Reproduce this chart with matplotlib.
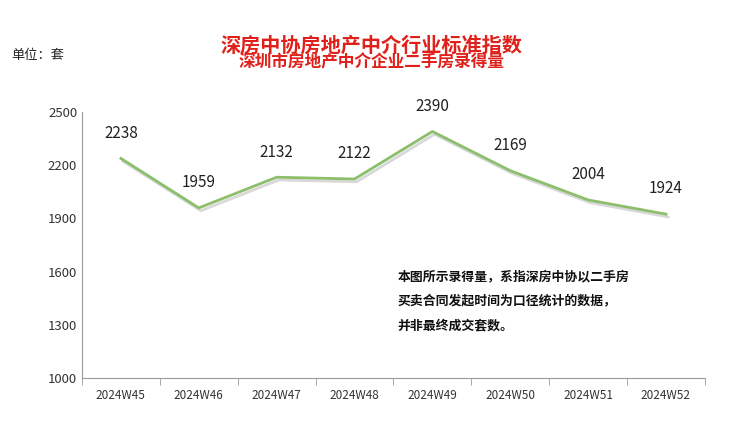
import matplotlib.pyplot as plt
import matplotlib.patheffects as pe
import numpy as np

plt.rcParams['font.family'] = ['Noto Sans CJK SC', 'DejaVu Sans']

weeks = ["2024W45", "2024W46", "2024W47", "2024W48", "2024W49", "2024W50", "2024W51", "2024W52"]
values = [2238, 1959, 2132, 2122, 2390, 2169, 2004, 1924]
yticks = [1000, 1300, 1600, 1900, 2200, 2500]

fig = plt.figure(figsize=(7.32, 4.34), dpi=100)
ax = fig.add_axes([0.112, 0.129, 0.851, 0.613])
x = np.arange(len(weeks))
ax.plot(x, values, color="#8cbf6c", linewidth=2,
        path_effects=[pe.SimpleLineShadow(offset=(1.5, -2), shadow_color="#aaaaaa", alpha=0.45),
                      pe.Normal()])
for xi, v in zip(x, values):
    ax.annotate(str(v), (xi, v), xytext=(0, 12), textcoords="offset points",
                ha="center", va="bottom", fontsize=11, color="#222222")

ax.set_xlim(-0.5, len(weeks) - 0.5)
ax.set_ylim(1000, 2500)
ax.set_yticks(yticks)
ax.set_xticks(x)
ax.set_xticklabels(weeks)
ax.set_xticks(np.arange(-0.5, len(weeks)), minor=True)
ax.tick_params(axis="x", which="major", length=0, labelsize=8.5, colors="#333333", pad=8)
ax.tick_params(axis="x", which="minor", length=5, color="#999999")
ax.tick_params(axis="y", length=0, labelsize=9.5, colors="#333333")
for s in ["top", "right"]:
    ax.spines[s].set_visible(False)
for s in ["left", "bottom"]:
    ax.spines[s].set_color("#999999")

fig.text(0.507, 0.897, "深房中协房地产中介行业标准指数", ha="center", va="center",
         fontsize=14.5, fontweight="bold", color="#e0201b")
fig.text(0.507, 0.857, "深圳市房地产中介企业二手房录得量", ha="center", va="center",
         fontsize=12, fontweight="bold", color="#e0201b")
fig.text(0.016, 0.873, "单位：套", ha="left", va="center", fontsize=9.5, color="#222222")

notes = ["本图所示录得量，系指深房中协以二手房", "买卖合同发起时间为口径统计的数据，", "并非最终成交套数。"]
for i, line in enumerate(notes):
    fig.text(0.543, 0.364 - i * 0.057, line, ha="left", va="center",
             fontsize=9.3, fontweight="bold", color="#111111")

fig.savefig("out.png", dpi=100)
